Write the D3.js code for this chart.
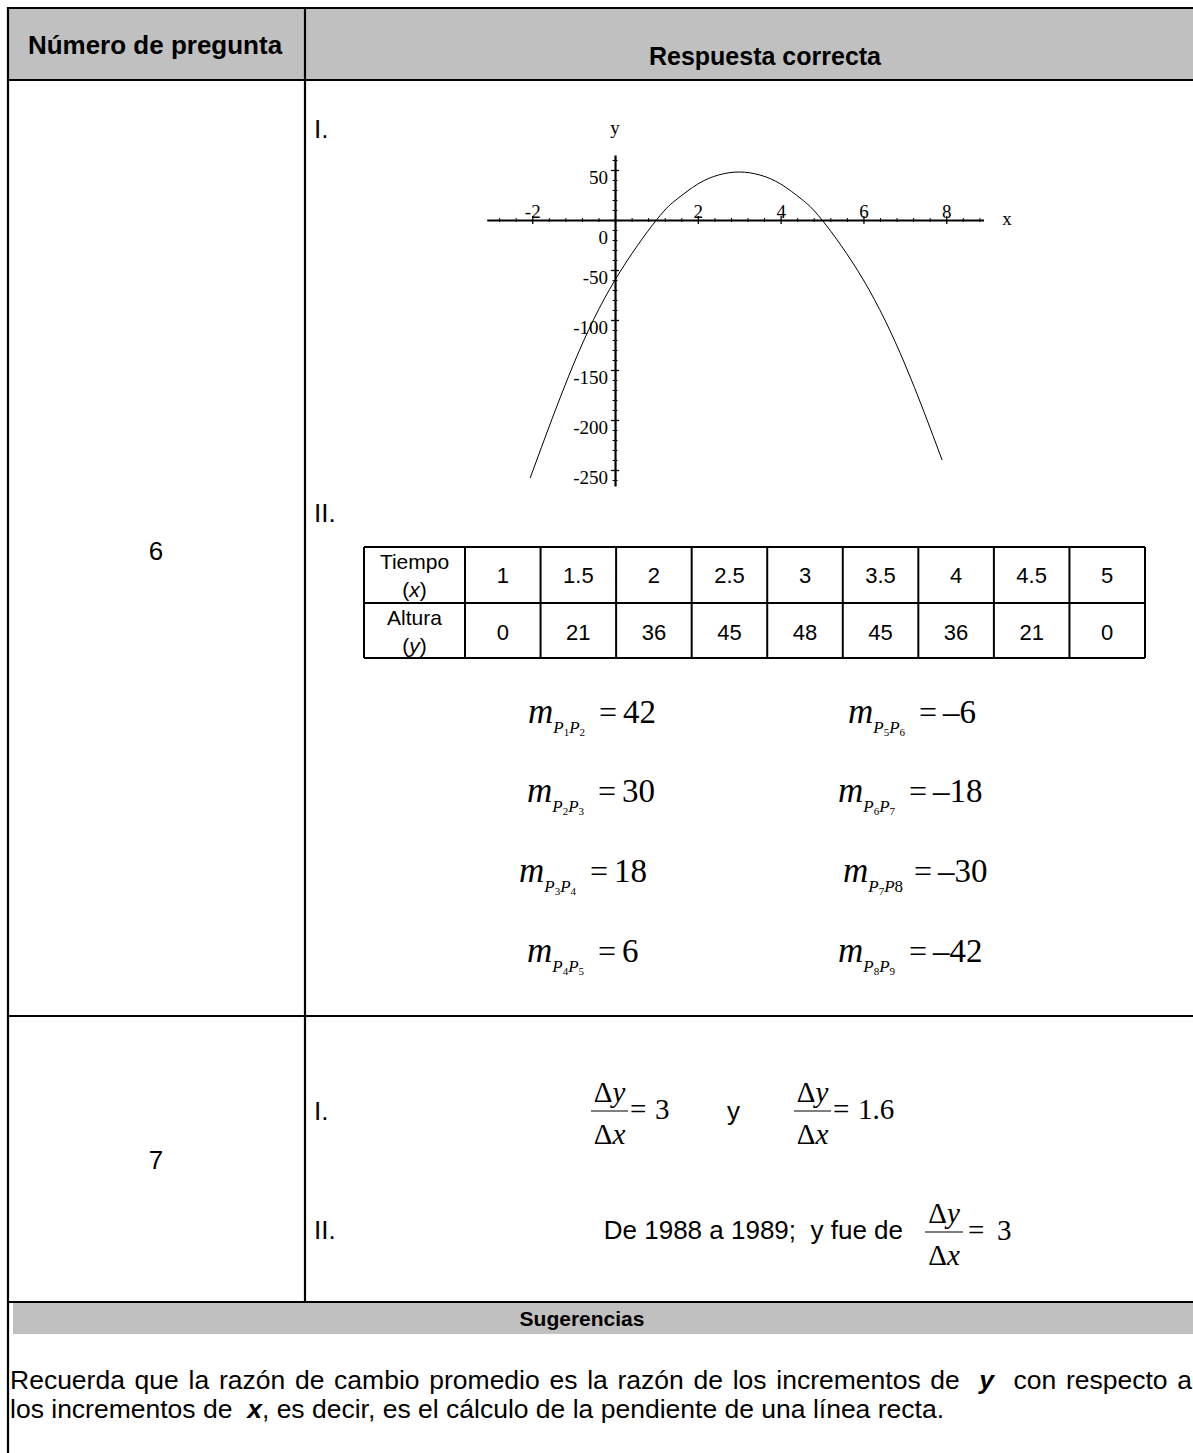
<!DOCTYPE html>
<html><head><meta charset="utf-8">
<script src="https://cdn.jsdelivr.net/npm/d3@7"></script>
<style>body{margin:0;background:#fff}svg{display:block}</style>
</head><body>
<svg id="c" width="1193" height="1453"></svg>
<script>
// ---------- data ----------
const tiempo = [1, 1.5, 2, 2.5, 3, 3.5, 4, 4.5, 5];
const altura = [0, 21, 36, 45, 48, 45, 36, 21, 0];
const curveX = [-2.05, -1, 0, 1, 1.5, 2, 2.5, 3, 3.5, 4, 4.5, 5, 6, 7, 7.9];
const curveY = [-258, -144, -60, 0, 21, 36, 45, 48, 45, 36, 21, 0, -60, -144, -240];
const xTicksMajor = [-2, 2, 4, 6, 8];
const yTicksMajor = [50, 0, -50, -100, -150, -200, -250];
const slopePairsLeft = [["1","2"],["2","3"],["3","4"],["4","5"]];
const slopeValsLeft = ["42","30","18","6"];
const slopePairsRight = [["5","6"],["6","7"],["7","8"],["8","9"]];
const slopeValsRight = ["\u20136","\u201318","\u201330","\u201342"];
const rateValsI = ["3", "1.6"];
const rateValII = "3";
const line1Words = ["Recuerda","que","la","razón","de","cambio","promedio","es","la","razón","de","los","incrementos","de","y","con","respecto","a"];

// ---------- setup ----------
const serif = "'Liberation Serif','Times New Roman',serif";
const sans = "'Liberation Sans',Arial,sans-serif";
const svg = d3.select("#c");
svg.append("rect").attr("width",1193).attr("height",1453).attr("fill","#fff");

// header fills
svg.append("rect").attr("x",8).attr("y",8).attr("width",1190).attr("height",72).attr("fill","#c0c0c0");
svg.append("rect").attr("x",13).attr("y",1303).attr("width",1185).attr("height",31).attr("fill","#c0c0c0");

// borders
const B = (x1,y1,x2,y2,w)=>svg.append("line").attr("x1",x1).attr("y1",y1).attr("x2",x2).attr("y2",y2)
  .attr("stroke","#000").attr("stroke-width",w||2.2);
B(7,8,1193,8); B(8,7,8,1453); B(7,80,1193,80); B(305,8,305,1302);
B(7,1016,1193,1016); B(7,1302,1193,1302);

const T = (x,y,txt,o={})=>svg.append("text").attr("x",x).attr("y",y)
  .attr("font-family",o.ff||sans).attr("font-size",o.fs||26)
  .attr("font-weight",o.fw||null).attr("font-style",o.fst||null)
  .attr("text-anchor",o.a||"start").style("white-space","pre").text(txt);

T(155,54,"Número de pregunta",{fw:"bold",a:"middle"});
T(765,65,"Respuesta correcta",{fw:"bold",fs:25,a:"middle"});
T(156,560,"6",{a:"middle"});
T(156,1169,"7",{a:"middle"});
T(314,138,"I.");
T(314,522,"II.");
T(314,1120,"I.");
T(314,1239,"II.");

// ---------- graph ----------
const x = d3.scaleLinear().domain([-3.1, 8.9]).range([486.7, 983.5]);
const y = d3.scaleLinear().domain([-266, 65]).range([486, 155]);
const xMinor = d3.range(-2.8, 8.81, 0.4).map(v=>+v.toFixed(1)).filter(v=>Math.abs(v)>0.01 && !xTicksMajor.includes(v));
const yMinor = d3.range(-260, 61, 10).filter(v=>v!==0 && !yTicksMajor.includes(v));

const gxm = svg.append("g").attr("transform",`translate(0,${y(0)})`)
  .call(d3.axisBottom(x).tickValues(xMinor).tickSizeOuter(0).tickFormat(""));
gxm.selectAll(".tick line").attr("y1",-2).attr("y2",2).attr("stroke-width",1);
gxm.select(".domain").attr("stroke-width",2.2);
const gx = svg.append("g").attr("transform",`translate(0,${y(0)})`)
  .call(d3.axisBottom(x).tickValues(xTicksMajor).tickSizeOuter(0).tickFormat(d=>String(d)));
gx.select(".domain").remove();
gx.selectAll(".tick line").attr("y1",-4).attr("y2",4).attr("stroke-width",1.3);
gx.selectAll(".tick text").attr("y",-2).attr("dy",null).attr("font-family",serif).attr("font-size",19).attr("fill","#000");

const gym = svg.append("g").attr("transform",`translate(${x(0)},0)`)
  .call(d3.axisLeft(y).tickValues(yMinor).tickSizeOuter(0).tickFormat(""));
gym.selectAll(".tick line").attr("x1",-2.5).attr("x2",2.5).attr("stroke-width",1);
gym.select(".domain").attr("stroke-width",2.2);
const gy = svg.append("g").attr("transform",`translate(${x(0)},0)`)
  .call(d3.axisLeft(y).tickValues(yTicksMajor).tickSizeOuter(0).tickFormat(d=>String(d)));
gy.select(".domain").remove();
gy.selectAll(".tick line").attr("x1",-4).attr("x2",4).attr("stroke-width",1.3);
gy.selectAll(".tick text").attr("x",-7).attr("dy",null).attr("y",d=>d===0?23:13)
  .attr("font-family",serif).attr("font-size",19).attr("fill","#000");

const pts = curveX.map((v,i)=>[v,curveY[i]]);
svg.append("path").datum(pts).attr("fill","none").attr("stroke","#000").attr("stroke-width",1)
  .attr("d", d3.line().x(d=>x(d[0])).y(d=>y(d[1])).curve(d3.curveNatural));

T(1007,225,"x",{ff:serif,fs:19,a:"middle"});
T(615,134,"y",{ff:serif,fs:19,a:"middle"});

// ---------- value table ----------
const colX = d3.scaleBand().domain(d3.range(tiempo.length)).range([465,1145]);
const tTop=547, tMid=603, tBot=658, tLeft=364;
B(tLeft,tTop,1145,tTop,2); B(tLeft,tMid,1145,tMid,2); B(tLeft,tBot,1145,tBot,2);
B(tLeft,tTop,tLeft,tBot,2); B(465,tTop,465,tBot,2);
tiempo.forEach((v,i)=>B(colX(i)+colX.bandwidth(),tTop,colX(i)+colX.bandwidth(),tBot,2));
const lbl = (yb, word, v)=>{
  T(414.5,yb,word,{fs:21,a:"middle"});
  const t = svg.append("text").attr("x",414.5).attr("y",yb+28).attr("font-family",sans).attr("font-size",21).attr("text-anchor","middle");
  t.append("tspan").text("(");
  t.append("tspan").attr("font-style","italic").text(v);
  t.append("tspan").text(")");
};
lbl(569,"Tiempo","x");
lbl(625,"Altura","y");
tiempo.forEach((v,i)=>T(colX(i)+colX.bandwidth()/2,583,String(v),{fs:22,a:"middle"}));
altura.forEach((v,i)=>T(colX(i)+colX.bandwidth()/2,640,String(v),{fs:22,a:"middle"}));

// ---------- slopes ----------
const rowsY = [723, 802, 882, 962];
const leftX = [528, 527, 519, 527];
const rightX = [848, 838, 843, 838];
function slope(x0, yb, pair, val, plain2){
  const t = svg.append("text").attr("x",x0).attr("y",yb).attr("font-family",serif);
  t.append("tspan").attr("font-size",35).attr("font-style","italic").text("m");
  t.append("tspan").attr("font-size",17).attr("font-style","italic").attr("dx",0).attr("dy",10).text("P");
  t.append("tspan").attr("font-size",11).attr("dy",3).text(pair[0]);
  t.append("tspan").attr("font-size",17).attr("font-style","italic").attr("dy",-3).text("P");
  t.append("tspan").attr("font-size",plain2?17:11).attr("dy",plain2?0:3).text(pair[1]);
  T(x0+71,yb,"=",{ff:serif,fs:32});
  T(x0+95,yb,val,{ff:serif,fs:33});
}
slopePairsLeft.forEach((p,i)=>slope(leftX[i],rowsY[i],p,slopeValsLeft[i],false));
slopePairsRight.forEach((p,i)=>slope(rightX[i],rowsY[i],p,slopeValsRight[i],i===2));

// ---------- rates ----------
function frac(x0, barY, w){
  const cx = x0 + w/2;
  const n = svg.append("text").attr("x",cx).attr("y",barY-9).attr("text-anchor","middle").attr("font-family",serif).attr("font-size",29);
  n.append("tspan").text("\u0394"); n.append("tspan").attr("font-style","italic").text("y");
  const d = svg.append("text").attr("x",cx).attr("y",barY+33).attr("text-anchor","middle").attr("font-family",serif).attr("font-size",29);
  d.append("tspan").text("\u0394"); d.append("tspan").attr("font-style","italic").text("x");
  B(x0,barY,x0+w,barY,1.2);
}
const barI = 1111;
frac(591,barI,37); T(630,barI+8,"=",{ff:serif,fs:29}); T(655,barI+8,rateValsI[0],{ff:serif,fs:29});
T(727,1120,"y");
frac(794,barI,37); T(833,barI+8,"=",{ff:serif,fs:29}); T(858,barI+8,rateValsI[1],{ff:serif,fs:29});

T(903,1239,"De 1988 a 1989;  y fue de",{a:"end"});
const barII = 1232;
frac(925,barII,38); T(968,barII+8,"=",{ff:serif,fs:29}); T(997,barII+8,rateValII,{ff:serif,fs:29});

// ---------- sugerencias ----------
T(582,1326,"Sugerencias",{fw:"bold",fs:21,a:"middle"});
const fsBody = 26.5;
const wordsG = svg.append("g");
const yIdx = line1Words.indexOf("y");
const nodes = line1Words.map((w,i)=>wordsG.append("text").attr("y",1389).attr("font-family",sans).attr("font-size",fsBody)
  .attr("font-weight",i===yIdx?"bold":null).attr("font-style",i===yIdx?"italic":null).text(w));
const widths = nodes.map(n=>n.node().getComputedTextLength());
const gapW = line1Words.slice(1).map((w,i)=>(i+1===yIdx||i===yIdx)?2:1);
const totalW = d3.sum(widths), totalG = d3.sum(gapW);
const unit = (1192-10-totalW)/totalG;
let cur = 10;
nodes.forEach((n,i)=>{ n.attr("x",cur); cur += widths[i] + (i<gapW.length? gapW[i]*unit : 0); });

const l2 = svg.append("text").attr("x",10).attr("y",1418).attr("font-family",sans).attr("font-size",fsBody).style("white-space","pre");
l2.append("tspan").text("los incrementos de  ");
l2.append("tspan").attr("font-weight","bold").attr("font-style","italic").text("x");
l2.append("tspan").text(", es decir, es el cálculo de la pendiente de una línea recta.");
</script>
</body></html>
